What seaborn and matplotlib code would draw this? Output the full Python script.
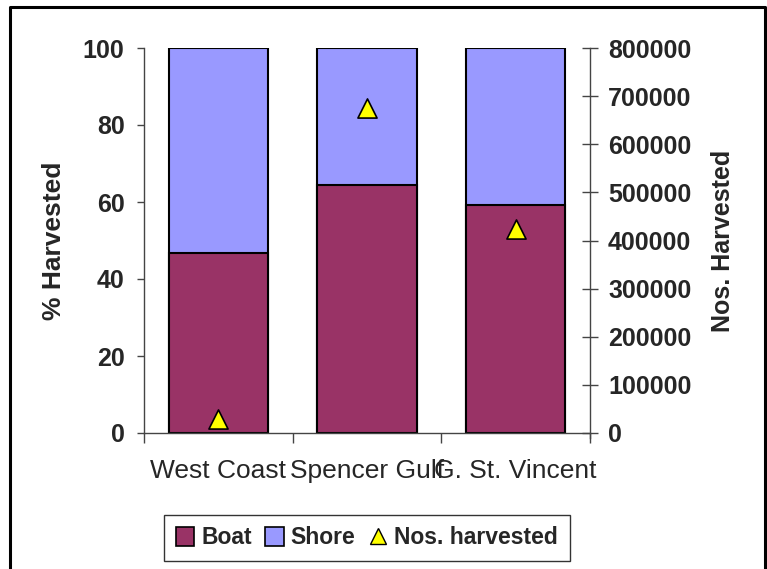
import numpy as np
import pandas as pd
import matplotlib
matplotlib.use('Agg')
import matplotlib.pyplot as plt
from matplotlib.patches import Patch
from matplotlib.lines import Line2D
import seaborn as sns

sns.set_style('white')
plt.rcParams['font.family'] = ['Liberation Sans', 'DejaVu Sans']

regions = ['West Coast', 'Spencer Gulf', 'G. St. Vincent']
boat_pct = [46.8, 64.4, 59.3]
shore_pct = [53.2, 35.6, 40.7]
nos_harvested = [30000, 676000, 424000]

BOAT_COL = '#993366'
SHORE_COL = '#9999FF'

df = pd.DataFrame({'region': regions, 'boat': boat_pct, 'shore': shore_pct,
                   'nos': nos_harvested})
df['total'] = df['boat'] + df['shore']

fig = plt.figure(figsize=(7.67, 5.69), dpi=100)
ax = fig.add_axes([144 / 767, 1 - 433 / 569, 446 / 767, 385 / 569])

# stacked bars: total (shore on top) then boat over it
sns.barplot(data=df, x='region', y='total', color=SHORE_COL, width=0.67,
            edgecolor='black', linewidth=1.5, saturation=1, ax=ax)
sns.barplot(data=df, x='region', y='boat', color=BOAT_COL, width=0.67,
            edgecolor='black', linewidth=1.5, saturation=1, ax=ax)

ax.set_xlim(-0.5, 2.5)
ax.set_ylim(0, 100)
ax.set_yticks([0, 20, 40, 60, 80, 100])
ax.set_ylabel('% Harvested', fontsize=19, fontweight='bold', labelpad=12)
ax.set_xlabel('')
ax.set_xticks([-0.5, 0.5, 1.5, 2.5])
ax.set_xticklabels([])
ax.set_xticks([0, 1, 2], minor=True)
ax.set_xticklabels(regions, minor=True, fontsize=19)
ax.tick_params(axis='x', which='major', direction='out', length=7, width=1,
               color='#444444', bottom=True)
ax.tick_params(axis='x', which='minor', length=0, pad=19)
ax.tick_params(axis='y', direction='out', length=5, width=1, color='#444444',
               left=True, labelsize=18, pad=9)
for lab in ax.get_yticklabels():
    lab.set_fontweight('bold')
for side in ['top', 'right']:
    ax.spines[side].set_visible(False)
for side in ['left', 'bottom']:
    ax.spines[side].set_color('#444444')
    ax.spines[side].set_linewidth(1)
ax.spines['left'].set_bounds(0, 100)

ax2 = ax.twinx()
sns.scatterplot(data=df, x='region', y='nos', marker='^', s=190,
                color='#FFFF00', edgecolor='black', linewidth=1.2, ax=ax2,
                zorder=5, legend=False)
ax2.set_ylim(0, 800000)
ax2.set_xlim(-0.5, 2.5)
ax2.set_yticks(np.arange(0, 800001, 100000))
ax2.set_yticklabels([str(v) for v in range(0, 800001, 100000)])
ax2.set_ylabel('Nos. Harvested', fontsize=18, fontweight='bold', labelpad=14)
ax2.tick_params(axis='y', direction='inout', length=12, width=1,
                color='#444444', right=True, labelsize=18, pad=7)
for lab in ax2.get_yticklabels():
    lab.set_fontweight('bold')
for side in ['top', 'left', 'bottom']:
    ax2.spines[side].set_visible(False)
ax2.spines['right'].set_color('#444444')
ax2.spines['right'].set_linewidth(1)
ax2.spines['right'].set_bounds(-10000, 800000)

handles = [Patch(facecolor=BOAT_COL, edgecolor='black', linewidth=1.2),
           Patch(facecolor=SHORE_COL, edgecolor='black', linewidth=1.2),
           Line2D([], [], marker='^', linestyle='none', markersize=12,
                  markerfacecolor='#FFFF00', markeredgecolor='black')]
leg = fig.legend(handles, ['Boat', 'Shore', 'Nos. harvested'], ncol=3,
                 loc='center', bbox_to_anchor=(367 / 767, 1 - 538 / 569),
                 prop={'size': 16.5, 'weight': 'bold'}, frameon=True,
                 fancybox=False, handlelength=0.8, handleheight=0.9,
                 handletextpad=0.3, columnspacing=0.6, borderpad=0.5)
leg.get_frame().set_edgecolor('black')
leg.get_frame().set_linewidth(1)

# chart border (left, top, right)
fig.add_artist(Line2D([10 / 767, 10 / 767, 765 / 767, 765 / 767],
                      [0, 1 - 7 / 569, 1 - 7 / 569, 0],
                      transform=fig.transFigure, color='black', linewidth=2.2))

fig.savefig('out.png', dpi=100)
